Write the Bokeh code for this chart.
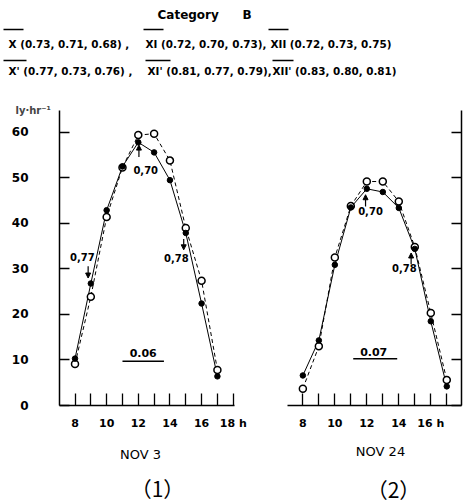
from bokeh.plotting import figure
from bokeh.models import FixedTicker, Label, Arrow, NormalHead, Title, Range1d
from bokeh.layouts import column, row
from bokeh.embed import file_html
from bokeh.resources import INLINE

# ---------------- data ----------------
hours = [8, 9, 10, 11, 12, 13, 14, 15, 16, 17]
nov3_measured = [10.3, 26.8, 42.9, 52.5, 57.8, 55.6, 49.5, 37.9, 22.4, 6.4]
nov3_computed = [9.1, 23.9, 41.4, 52.3, 59.4, 59.7, 53.8, 39.0, 27.4, 7.8]
nov24_measured = [6.6, 14.3, 30.9, 43.5, 47.6, 46.9, 43.4, 34.4, 18.5, 4.2]
nov24_computed = [3.7, 13.0, 32.5, 43.8, 49.2, 49.2, 44.8, 34.8, 20.3, 5.6]

y_ticks = [0, 10, 20, 30, 40, 50, 60]
y_tick_labels = ["0", "10", "20", "30", "40", "50", "60"]
x_major_1 = [8, 10, 12, 14, 16, 18]
x_minor_1 = [9, 11, 13, 15, 17]
x_labels_1 = {8: "8", 10: "10", 12: "12", 14: "14", 16: "16", 18: "18 h"}
x_major_2 = [8, 10, 12, 14, 16]
x_minor_2 = [9, 11, 13, 15, 17]
x_labels_2 = {8: "8", 10: "10", 12: "12", 14: "14", 16: "16 h"}

header_title = ["Category", "B"]
header_line1 = ["X (0.73, 0.71, 0.68) ,", "XI (0.72, 0.70, 0.73),", "XII (0.72, 0.73, 0.75)"]
header_line2 = ["X' (0.77, 0.73, 0.76) ,", "XI' (0.81, 0.77, 0.79),", "XII' (0.83, 0.80, 0.81)"]
unit_label = "ly·hr⁻¹"
dates = ["NOV 3", "NOV 24"]
panel_ids = ["（1）", "（2）"]

FONT = "DejaVu Sans"
FIG_SPACE = "\u2007"


def blank(width, height):
    f = figure(width=width, height=height, x_range=Range1d(0, width), y_range=Range1d(height, 0),
               x_axis_location=None, y_axis_location=None, output_backend="svg",
               toolbar_location=None, min_border=0)
    f.outline_line_color = None
    f.grid.visible = False
    return f


def lab(f, x, y, t, size="11px", style="bold", align="left", font=FONT):
    f.add_layout(Label(x=x, y=y, text=t, text_align=align, text_baseline="middle",
                       text_font=font, text_font_size=size, text_font_style=style,
                       text_color="black"))

# ---------------- header ----------------
h = blank(463, 90)
lab(h, 157, 14, header_title[0], "12px")
lab(h, 242, 14, header_title[1], "12px")
for x0, t in zip([8, 145, 270], header_line1):
    lab(h, x0, 43, t, "10.4px")
for x0, t in zip([8, 147, 272], header_line2):
    lab(h, x0, 70, t, "10.4px")
h.segment(x0=[3, 143, 268, 3, 145, 272], y0=[29, 29, 29, 60, 60, 60],
          x1=[23, 163, 288, 26, 170, 293], y1=[29, 29, 29, 60, 60, 60],
          line_color="black", line_width=1.5)


def style_xaxis(p, major, minor, labels):
    ax = p.xaxis[0]
    ax.ticker = FixedTicker(ticks=major, minor_ticks=minor)
    ax.major_label_overrides = {t: labels[t] for t in major}
    ax.axis_line_width = 1.5
    ax.major_tick_in = 12
    ax.major_tick_out = 0
    ax.major_tick_line_width = 1.3
    ax.minor_tick_in = 12
    ax.minor_tick_out = 0
    ax.minor_tick_line_width = 1.3
    ax.minor_tick_line_color = "black"
    ax.major_label_standoff = 11
    ax.major_label_text_font = FONT
    ax.major_label_text_font_style = "bold"
    ax.major_label_text_font_size = "11px"
    ax.major_label_text_color = "black"


def draw_series(p, measured, computed):
    p.line(hours, computed, line_color="black", line_width=1, line_dash="4 3")
    p.line(hours, measured, line_color="black", line_width=1)
    p.scatter(hours, computed, marker="circle", size=7, fill_color="white",
              line_color="black", line_width=1.5)
    p.scatter(hours, measured, marker="circle", size=5.5, fill_color="black",
              line_color="black")


def note(p, x, y, t, size="10px"):
    p.add_layout(Label(x=x, y=y, text=t, text_align="center", text_baseline="middle",
                       text_font=FONT, text_font_size=size, text_font_style="bold",
                       text_color="black"))


def arrow(p, x, y0, y1):
    p.add_layout(Arrow(end=NormalHead(size=5, fill_color="black", line_color="black"),
                       x_start=x, y_start=y0, x_end=x, y_end=y1,
                       line_color="black", line_width=1.2))

# ---------------- panel 1 ----------------
p1 = figure(width=262, height=350, x_range=Range1d(7.02, 18.08), y_range=Range1d(0, 64.8),
            output_backend="svg", toolbar_location=None,
            min_border_left=0, min_border_right=28, min_border_top=20, min_border_bottom=35)
p1.outline_line_color = None
p1.grid.visible = False
style_xaxis(p1, x_major_1, x_minor_1, x_labels_1)
ya = p1.yaxis[0]
ya.ticker = FixedTicker(ticks=y_ticks)
ya.major_label_overrides = {v: FIG_SPACE + t for v, t in zip(y_ticks, y_tick_labels)}
ya.axis_line_width = 1.5
ya.major_tick_in = 10
ya.major_tick_out = 0
ya.major_tick_line_width = 1.3
ya.minor_tick_in = 0
ya.minor_tick_out = 0
ya.major_label_standoff = 31
ya.major_label_text_font = FONT
ya.major_label_text_font_style = "bold"
ya.major_label_text_font_size = "12px"
ya.major_label_text_color = "black"
p1.add_layout(Title(text=unit_label, align="left", offset=-44, standoff=-11,
                    text_font=FONT, text_font_size="10px", text_font_style="bold"), "above")
draw_series(p1, nov3_measured, nov3_computed)
note(p1, 8.46, 32.6, "0,77")
arrow(p1, 8.83, 30.6, 28.0)
note(p1, 12.47, 51.7, "0,70")
arrow(p1, 12.04, 54.6, 57.2)
note(p1, 14.4, 32.4, "0,78")
arrow(p1, 14.87, 36.6, 34.2)
note(p1, 12.31, 11.6, "0.06", "11px")
p1.segment(x0=[11.0], y0=[9.7], x1=[13.62], y1=[9.7], line_color="black", line_width=1.5)

# ---------------- panel 2 ----------------
p2 = figure(width=201, height=350, x_range=Range1d(7.04, 17.92), y_range=Range1d(0, 64.8),
            output_backend="svg", toolbar_location=None, y_axis_location="right",
            min_border_left=25, min_border_right=2, min_border_top=20, min_border_bottom=35)
p2.outline_line_color = None
p2.grid.visible = False
style_xaxis(p2, x_major_2, x_minor_2, x_labels_2)
yb = p2.yaxis[0]
yb.ticker = FixedTicker(ticks=[], minor_ticks=y_ticks)
yb.axis_line_width = 1.5
yb.major_tick_in = 0
yb.major_tick_out = 0
yb.minor_tick_in = 10
yb.minor_tick_out = 0
yb.minor_tick_line_width = 1.3
yb.minor_tick_line_color = "black"
yb.major_label_standoff = 0
draw_series(p2, nov24_measured, nov24_computed)
note(p2, 12.23, 42.8, "0,70")
arrow(p2, 11.92, 43.7, 46.3)
note(p2, 14.35, 30.2, "0,78")
arrow(p2, 14.77, 31.0, 33.5)
note(p2, 12.43, 11.7, "0.07", "11px")
p2.segment(x0=[11.15], y0=[10.25], x1=[13.9], y1=[10.25], line_color="black", line_width=1.5)

# ---------------- footer ----------------
ft = blank(463, 62)
lab(ft, 140, 14, dates[0], "13px", "normal", "center")
lab(ft, 380, 11, dates[1], "13px", "normal", "center")
lab(ft, 157, 47, panel_ids[0], "21px", "normal", "center", "Noto Sans CJK JP")
lab(ft, 393, 48, panel_ids[1], "21px", "normal", "center", "Noto Sans CJK JP")

layout = column(h, row(p1, p2, spacing=0), ft, spacing=0)
open("out.html", "w").write(file_html(layout, INLINE))
